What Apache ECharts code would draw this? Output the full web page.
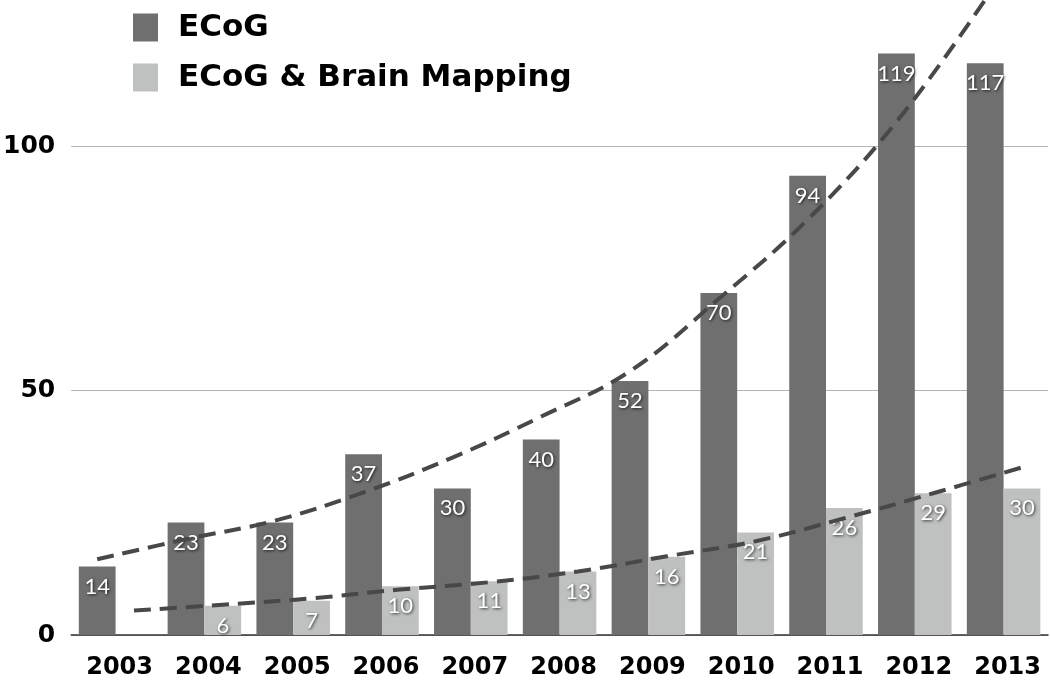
<!DOCTYPE html>
<html>
<head>
<meta charset="utf-8">
<script src="https://cdn.jsdelivr.net/npm/echarts@6/dist/echarts.min.js"></script>
<style>
  html, body { margin: 0; padding: 0; background: #ffffff; overflow: hidden; }
  /* the chart runs up to 150 but the picture is cut at about 130 */
  #main { width: 1050px; height: 778px; margin-top: -98px; }
</style>
</head>
<body>
<div id="main"></div>
<script>
// data
var years = ["2003", "2004", "2005", "2006", "2007", "2008", "2009", "2010", "2011", "2012", "2013"];
var ecog = [14, 23, 23, 37, 30, 40, 52, 70, 94, 119, 117];
var ecogMapping = ["-", 6, 7, 10, 11, 13, 16, 21, 26, 29, 30];
// dashed trend lines, read at each bar centre
var ecogTrend = [15.5, 19.6, 23.4, 29.2, 36.3, 44.7, 54, 68.8, 85, 105, 130];
var mappingTrend = [5.0, 6.2, 7.5, 9.3, 10.8, 13.0, 16.1, 19.2, 23.9, 29.0, 34.3];
var yTicks = [0, 50, 100];

var barOffset = 0.207; // half a bar, in category units

function trendPoints(values, shift) {
  return values.map(function (v, i) { return [i + shift, v]; });
}

var chart = echarts.init(document.getElementById("main"));

var labelStyle = {
  show: true,
  position: "insideTop",
  distance: 9,
  color: "#ffffff",
  fontFamily: "Lato",
  fontSize: 22,
  textShadowColor: "rgba(0,0,0,0.75)",
  textShadowBlur: 3,
  textShadowOffsetX: 1,
  textShadowOffsetY: 1
};

var trendLine = {
  color: "#484848",
  width: 4,
  type: [17, 9]
};

var option = {
  backgroundColor: "#ffffff",
  animation: false,
  legend: {
    orient: "vertical",
    left: 133,
    top: 110,
    padding: 0,
    itemWidth: 25,
    itemHeight: 28,
    itemGap: 19,
    icon: "rect",
    data: ["ECoG", "ECoG & Brain Mapping"],
    textStyle: {
      fontFamily: "DejaVu Sans",
      fontWeight: "bold",
      fontSize: 31,
      color: "#000000",
      padding: [5, 0, 0, 15]
    }
  },
  grid: {
    left: 62,
    right: 2,
    top: 0,
    bottom: 43,
    containLabel: false
  },
  xAxis: [
    {
      type: "category",
      data: years,
      axisLine: { lineStyle: { color: "#333333", width: 1.5 } },
      axisTick: { show: false },
      axisLabel: {
        fontFamily: "DejaVu Sans",
        fontWeight: "bold",
        fontSize: 24,
        color: "#000000",
        margin: 21,
        padding: [0, 0, 0, 8]
      }
    },
    {
      type: "value",
      min: -0.5,
      max: 10.5,
      show: false
    }
  ],
  yAxis: {
    type: "value",
    min: 0,
    max: 150,
    interval: 50,
    axisLine: { show: false },
    axisTick: { show: false },
    axisLabel: {
      fontFamily: "DejaVu Sans",
      fontWeight: "bold",
      fontSize: 25,
      color: "#000000",
      margin: 16,
      formatter: function (v) {
        return yTicks.indexOf(v) >= 0 ? String(v) : "";
      }
    },
    splitLine: { lineStyle: { color: "#b4b4b4", width: 1.2 } }
  },
  series: [
    {
      name: "ECoG",
      type: "bar",
      data: ecog,
      barWidth: "41.4%",
      barGap: "0%",
      itemStyle: { color: "#6f6f6f" },
      label: labelStyle,
      z: 2
    },
    {
      name: "ECoG & Brain Mapping",
      type: "bar",
      data: ecogMapping,
      barWidth: "41.4%",
      barGap: "0%",
      itemStyle: { color: "#bfc1c0" },
      label: labelStyle,
      z: 2
    },
    {
      name: "ECoG trend",
      type: "line",
      xAxisIndex: 1,
      data: trendPoints(ecogTrend, -barOffset),
      smooth: 0.4,
      symbol: "none",
      lineStyle: trendLine,
      z: 3
    },
    {
      name: "Mapping trend",
      type: "line",
      xAxisIndex: 1,
      data: trendPoints(mappingTrend, barOffset),
      smooth: 0.4,
      symbol: "none",
      lineStyle: trendLine,
      z: 3
    }
  ]
};

chart.setOption(option);

window.addEventListener("resize", function () {
  chart.resize();
});
</script>
</body>
</html>
